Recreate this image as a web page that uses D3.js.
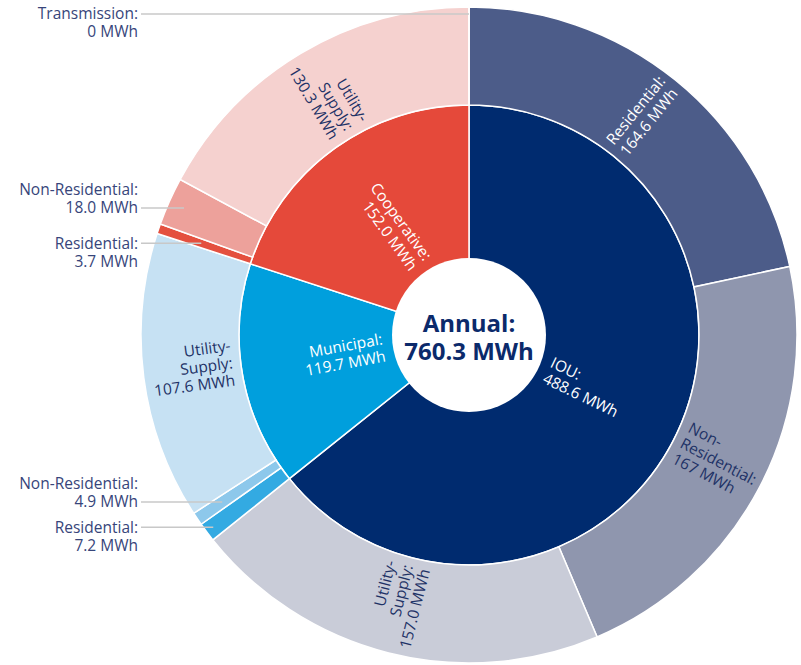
<!DOCTYPE html>
<html>
<head>
<meta charset="utf-8">
<script src="https://cdn.jsdelivr.net/npm/d3@7"></script>
<style>
  body { margin: 0; background: #fff; }
  svg { display: block; font-family: 'Open Sans', sans-serif; }
</style>
</head>
<body>
<svg id="chart"></svg>
<script>
// Annual energy by utility type and customer segment (MWh)
const annualTotal = '760.3';

const utilities = ['IOU', 'Municipal', 'Cooperative'];
const utilityText = ['488.6', '119.7', '152.0'];

const iouSegments = ['Residential', 'Non-Residential', 'Utility-Supply'];
const iouValues = [164.6, 167, 157.0];
const iouText = ['164.6', '167', '157.0'];

const municipalSegments = ['Residential', 'Non-Residential', 'Utility-Supply'];
const municipalValues = [7.2, 4.9, 107.6];
const municipalText = ['7.2', '4.9', '107.6'];

const cooperativeSegments = ['Residential', 'Non-Residential', 'Utility-Supply', 'Transmission'];
const cooperativeValues = [3.7, 18.0, 130.3, 0];
const cooperativeText = ['3.7', '18.0', '130.3', '0'];

// colours per utility: [inner, Residential, Non-Residential, Utility-Supply, Transmission]
const palette = {
    IOU: ['#002b6f', '#4c5c89', '#8f96ae', '#c9ccd8'],
    Municipal: ['#009fdd', '#33aae2', '#8dc8eb', '#c6e1f3'],
    Cooperative: ['#e5493a', '#e4503f', '#eda19b', '#f5d1cf', '#f5d1cf']
};

// small slices labelled outside: callout radius and which text line the leader meets
const callouts = {
    'Cooperative/Transmission': { r: 321, attach: 0 },
    'Cooperative/Non-Residential': { r: 312, attach: 1 },
    'Cooperative/Residential': { r: 283, attach: 0 },
    'Municipal/Non-Residential': { r: 298, attach: 1 },
    'Municipal/Residential': { r: 320, attach: 0 }
};

const width = 801, height = 665;
const cx = 469, cy = 335;
const holeR = 77, midR = 230, outerR = 328;
const darkText = '#1e3266';
const fontSize = '15.5px';

const svg = d3.select('#chart')
    .attr('width', width)
    .attr('height', height);

const chart = svg.append('g')
    .attr('transform', `translate(${cx},${cy})`);

// build hierarchy from the arrays
const groups = [
    { segs: iouSegments, vals: iouValues, txt: iouText },
    { segs: municipalSegments, vals: municipalValues, txt: municipalText },
    { segs: cooperativeSegments, vals: cooperativeValues, txt: cooperativeText }
];

const tree = {
    name: 'Annual',
    children: utilities.map((u, i) => ({
        name: u,
        text: utilityText[i],
        children: groups[i].segs.map((s, j) => ({
            name: s, utility: u, index: j, value: groups[i].vals[j], text: groups[i].txt[j]
        }))
    }))
};

const root = d3.hierarchy(tree).sum(d => d.value || 0);
d3.partition().size([2 * Math.PI, 2])(root);

const arc = d3.arc()
    .startAngle(d => d.x0)
    .endAngle(d => d.x1)
    .innerRadius(d => d.depth === 1 ? 0 : midR)
    .outerRadius(d => d.depth === 1 ? midR : outerR);

const nodes = root.descendants().filter(d => d.depth > 0);

function colour(d) {
    if (d.depth === 1) return palette[d.data.name][0];
    return palette[d.data.utility][d.data.index + 1];
}

chart.selectAll('.slice')
    .data(nodes)
    .join('path')
        .attr('class', 'slice')
        .attr('d', arc)
        .attr('fill', colour)
        .attr('stroke', '#fff')
        .attr('stroke-width', 1.5);

// white centre disc
chart.append('circle')
    .attr('r', holeR)
    .attr('fill', '#fff');

chart.append('text')
    .attr('text-anchor', 'middle')
    .attr('fill', '#0b2a6b')
    .attr('font-weight', 700)
    .attr('font-size', '24px')
    .selectAll('tspan')
    .data(['Annual:', annualTotal + ' MWh'])
    .join('tspan')
        .attr('x', 0)
        .attr('y', (d, i) => i === 0 ? -3 : 25)
        .text(d => d);

// inside labels, running along the radius
const isCallout = d => d.depth === 2 && callouts[d.data.utility + '/' + d.data.name];
const inside = nodes.filter(d => !isCallout(d));

function labelLines(d) {
    if (d.depth === 1) return [d.data.name + ':', d.data.text + ' MWh'];
    const parts = d.data.name.split('-');
    const lines = parts.map((p, i) => i < parts.length - 1 ? p + '-' : p + ':');
    lines.push(d.data.text + ' MWh');
    return lines;
}

const lh = 17.5;
const insideG = chart.selectAll('.inLabel')
    .data(inside)
    .join('g')
        .attr('class', 'inLabel')
        .attr('transform', d => {
            const a = (d.x0 + d.x1) / 2 * 180 / Math.PI;
            const r = d.depth === 1 ? holeR + 9 : midR + 8;
            return `rotate(${a - 90}) translate(${r},0) rotate(${a < 180 ? 0 : 180})`;
        });

insideG.append('text')
    .attr('font-size', fontSize)
    .attr('fill', d => (d.depth === 1 || (d.data.utility === 'IOU' && d.data.index === 0)) ? '#fff' : darkText)
    .attr('text-anchor', d => (d.x0 + d.x1) / 2 < Math.PI ? 'start' : 'end')
    .each(function(d) {
        const lines = labelLines(d);
        d3.select(this).selectAll('tspan')
            .data(lines)
            .join('tspan')
                .attr('x', 0)
                .attr('y', (t, i) => (i - (lines.length - 1) / 2) * lh - 3)
                .attr('dy', '0.35em')
                .text(t => t);
    });

// outside labels with leader lines to the left margin
const outside = nodes.filter(isCallout);
const textRight = 138 - cx;

outside.forEach(d => {
    const c = callouts[d.data.utility + '/' + d.data.name];
    const a = (d.x0 + d.x1) / 2;
    const px = c.r * Math.sin(a);
    const py = -c.r * Math.cos(a);

    chart.append('line')
        .attr('x1', textRight + 3)
        .attr('x2', px)
        .attr('y1', py)
        .attr('y2', py)
        .attr('stroke', '#c8c8c8')
        .attr('stroke-width', 1.5);

    chart.append('text')
        .attr('font-size', fontSize)
        .attr('fill', '#37457a')
        .attr('text-anchor', 'end')
        .selectAll('tspan')
        .data([d.data.name + ':', d.data.text + ' MWh'])
        .join('tspan')
            .attr('x', textRight)
            .attr('y', (t, i) => py + (i - c.attach) * 18)
            .attr('dy', '0.35em')
            .text(t => t);
});
</script>
</body>
</html>
